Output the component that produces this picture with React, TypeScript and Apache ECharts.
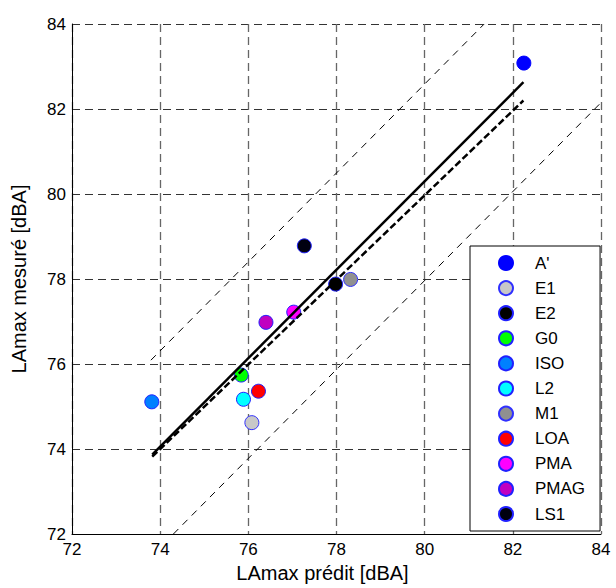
import React, { useEffect, useRef } from "react";
import * as echarts from "echarts";

const names = ["A'", "E1", "E2", "G0", "ISO", "L2", "M1", "LOA", "PMA", "PMAG", "LS1"];
const predicted = [82.25, 76.08, 77.98, 75.84, 73.81, 75.89, 78.32, 76.23, 77.03, 76.4, 77.27];
const measured = [83.08, 74.62, 77.88, 75.74, 75.11, 75.17, 77.99, 75.36, 77.22, 76.98, 78.78];
const fills = ["#0000ff", "#c8c8c8", "#000000", "#00ff00", "#0080ff", "#00ffff", "#909090", "#ff0000", "#ff00ff", "#c000c0", "#000010"];
const edges = ["#0000ff", "#3030ff", "#2020ff", "#2020ff", "#2020ff", "#2020ff", "#3030ff", "#2020ff", "#2020ff", "#2020ff", "#2020ff"];

const fitX = [73.82, 82.24];
const fitY = [73.87, 82.63];
const identX = [73.82, 82.24];
const identY = [73.82, 82.2];
const upperX = [73.79, 81.35];
const upperY = [76.09, 84];
const lowerX = [74.3, 84];
const lowerY = [72, 82.15];

const axisTicks = [72, 74, 76, 78, 80, 82, 84];

const FONT = "'Liberation Sans', Arial, sans-serif";

const pairs = (xs: number[], ys: number[]) => xs.map((x, i) => [x, ys[i]]);

export default function App() {
  const ref = useRef<HTMLDivElement>(null);
  useEffect(() => {
    if (!ref.current) return;
    const chart = echarts.init(ref.current, undefined, { renderer: "svg" });
    const scatter = names.map((n, i) => ({
      name: n,
      type: "scatter",
      data: [[predicted[i], measured[i]]],
      symbol: "circle",
      symbolSize: 14,
      itemStyle: { color: fills[i], borderColor: edges[i], borderWidth: 1, opacity: 1 },
      z: 2,
    }));
    const lineSeries = (data: number[][], width: number, type: any) => ({
      type: "line",
      data,
      showSymbol: false,
      symbol: "none",
      silent: true,
      lineStyle: { color: "#000", width, type },
      z: 3,
    });
    chart.setOption({
      animation: false,
      backgroundColor: "#fff",
      grid: { left: 72, top: 24, width: 529, height: 510, show: false },
      xAxis: {
        type: "value",
        min: axisTicks[0],
        max: axisTicks[axisTicks.length - 1],
        interval: 2,
        name: "LAmax prédit [dBA]",
        nameLocation: "middle",
        nameGap: 27,
        nameTextStyle: { fontFamily: FONT, fontSize: 20, color: "#000", padding: [0, 28, 0, 0] },
        axisLine: { show: true, onZero: false, lineStyle: { color: "#000", width: 1 } },
        axisTick: { show: false },
        axisLabel: { fontFamily: FONT, fontSize: 17, color: "#000", margin: 7 },
        splitLine: { show: true, lineStyle: { color: "#666", width: 1.3, type: [8, 5] } },
      },
      yAxis: {
        type: "value",
        min: axisTicks[0],
        max: axisTicks[axisTicks.length - 1],
        interval: 2,
        name: "LAmax mesuré [dBA]",
        nameLocation: "middle",
        nameGap: 43,
        nameTextStyle: { fontFamily: FONT, fontSize: 20, color: "#000" },
        axisLine: { show: true, onZero: false, lineStyle: { color: "#000", width: 1 } },
        axisTick: { show: false },
        axisLabel: { fontFamily: FONT, fontSize: 17, color: "#000", margin: 6 },
        splitLine: { show: true, lineStyle: { color: "#333", width: 1, type: [8, 5] } },
      },
      legend: {
        show: true,
        orient: "vertical",
        left: 470,
        top: 246,
        data: names,
        icon: "circle",
        itemWidth: 14,
        itemHeight: 14,
        itemGap: 8.1,
        padding: [8.5, 15, 8.5, 28],
        backgroundColor: "#fff",
        borderColor: "#000",
        borderWidth: 1,
        borderRadius: 0,
        selectedMode: false,
        textStyle: { fontFamily: FONT, fontSize: 17, color: "#000", padding: [0, 0, 0, 17] },
        z: 10,
      },
      series: [
        ...scatter,
        lineSeries(pairs(upperX, upperY), 1, [7, 6]),
        lineSeries(pairs(lowerX, lowerY), 1, [7, 6]),
        lineSeries(pairs(identX, identY), 2.5, [7, 3]),
        lineSeries(pairs(fitX, fitY), 2.5, "solid"),
      ],
    });
    return () => chart.dispose();
  }, []);
  return (
    <div
      ref={ref}
      style={{ position: "fixed", left: 0, top: 0, width: 616, height: 588 }}
    />
  );
}
